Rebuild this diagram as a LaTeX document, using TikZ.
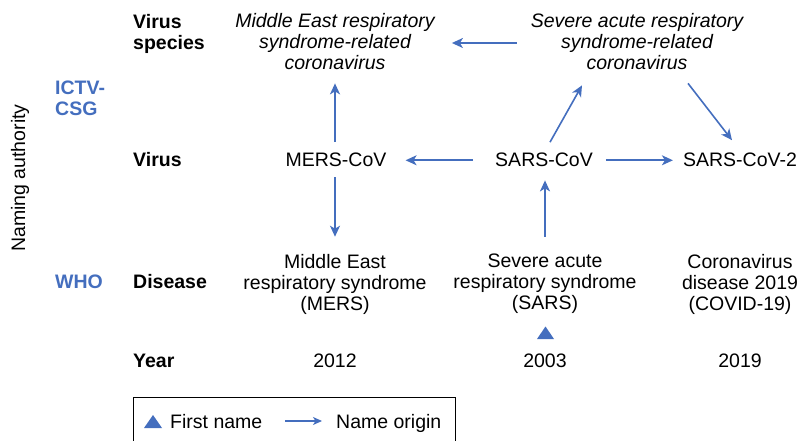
\documentclass[tikz,border=0pt]{standalone}
\usepackage{fontspec}
\setmainfont{Liberation Sans}
\usetikzlibrary{arrows.meta,calc}
\definecolor{cblue}{RGB}{68,110,190}
\tikzset{
  txt/.style={inner sep=0pt,font=\fontsize{19.5}{21}\selectfont,align=center},
  lbl/.style={inner sep=0pt,font=\fontsize{19.5}{21}\selectfont\bfseries,align=left},
  auth/.style={lbl,text=cblue},
  spec/.style={txt,font=\fontsize{19.5}{21}\selectfont\itshape},
  arr/.style={draw=cblue,line width=1.6pt,-{Stealth[length=11pt,width=10pt,inset=3pt]}},
  tri/.style={fill=cblue}
}
\begin{document}
\begin{tikzpicture}[x=1pt,y=-1pt]
\useasboundingbox (0,0) rectangle (804,441);
% authority labels
\node[txt,rotate=90] (naming) at (20,178) {Naming authority};
\node[auth,anchor=west] (ictv) at (55,98) {ICTV-\\CSG};
\node[auth,anchor=base west] (who) at (55,288) {WHO};
% row labels
\node[lbl,anchor=west] (rspec) at (133,34) {Virus\\species};
\node[lbl,anchor=base west] (rvirus) at (133,167) {Virus};
\node[lbl,anchor=base west] (rdis) at (133,288) {Disease};
\node[lbl,anchor=base west] (ryear) at (133,367) {Year};
% species
\node[spec] (merssp) at (335,42) {Middle East respiratory\\syndrome-related\\coronavirus};
\node[spec] (sarssp) at (637,42) {Severe acute respiratory\\syndrome-related\\coronavirus};
% viruses
\node[txt,anchor=base] (merscov) at (336,167) {MERS-CoV};
\node[txt,anchor=base] (sarscov) at (544,167) {SARS-CoV};
\node[txt,anchor=base] (sarscov2) at (740,167) {SARS-CoV-2};
% diseases
\node[txt] (mers) at (335,284) {Middle East\\respiratory syndrome\\(MERS)};
\node[txt] (sars) at (545,284) {Severe acute\\respiratory syndrome\\(SARS)};
\node[txt] (covid) at (740,284) {Coronavirus\\disease 2019\\(COVID-19)};
% years
\node[txt,anchor=base] (y2012) at (335,367) {2012};
\node[txt,anchor=base] (y2003) at (545,367) {2003};
\node[txt,anchor=base] (y2019) at (740,367) {2019};
% first name marker
\fill[tri] (537,339) -- (545.5,326.5) -- (554,339) -- cycle;
% arrows
\draw[arr] ($(sarssp.west)+(-14,1)$) -- ($(merssp.east)+(17,1)$);
\draw[arr] ($(merscov.north)+(-1,-11)$) -- ($(merssp.south)+(0,13)$);
\draw[arr] ($(sarscov.north)+(6,-11)$) -- ($(sarssp.south)+(-55,15)$);
\draw[arr] ($(sarssp.south)+(51,13)$) -- ($(sarscov2.north)+(-8,-13)$);
\draw[arr] ($(sarscov.west)+(-22,0)$) -- ($(merscov.east)+(19,0)$);
\draw[arr] ($(sarscov.east)+(13,0)$) -- ($(sarscov2.west)+(-10,0)$);
\draw[arr] ($(merscov.south)+(-1,10)$) -- ($(mers.north)+(0,-17)$);
\draw[arr] ($(sars.north)+(0,-17)$) -- ($(sarscov.south)+(1,13)$);
% legend
\draw[line width=0.8pt] (133,446) -- (133,397) -- (455,397) -- (455,446);
\fill[tri] (144,428) -- (153,415) -- (162,428) -- cycle;
\node[txt,anchor=base west] (lfirst) at (170,428) {First name};
\coordinate (la) at (285,421);
\coordinate (lb) at (322,421);
\draw[arr,line width=1.2pt,-{Stealth[length=9pt,width=8pt,inset=2.5pt]}] (la) -- (lb);
\node[txt,anchor=base west] (lorigin) at (336,428) {Name origin};
\end{tikzpicture}
\end{document}
